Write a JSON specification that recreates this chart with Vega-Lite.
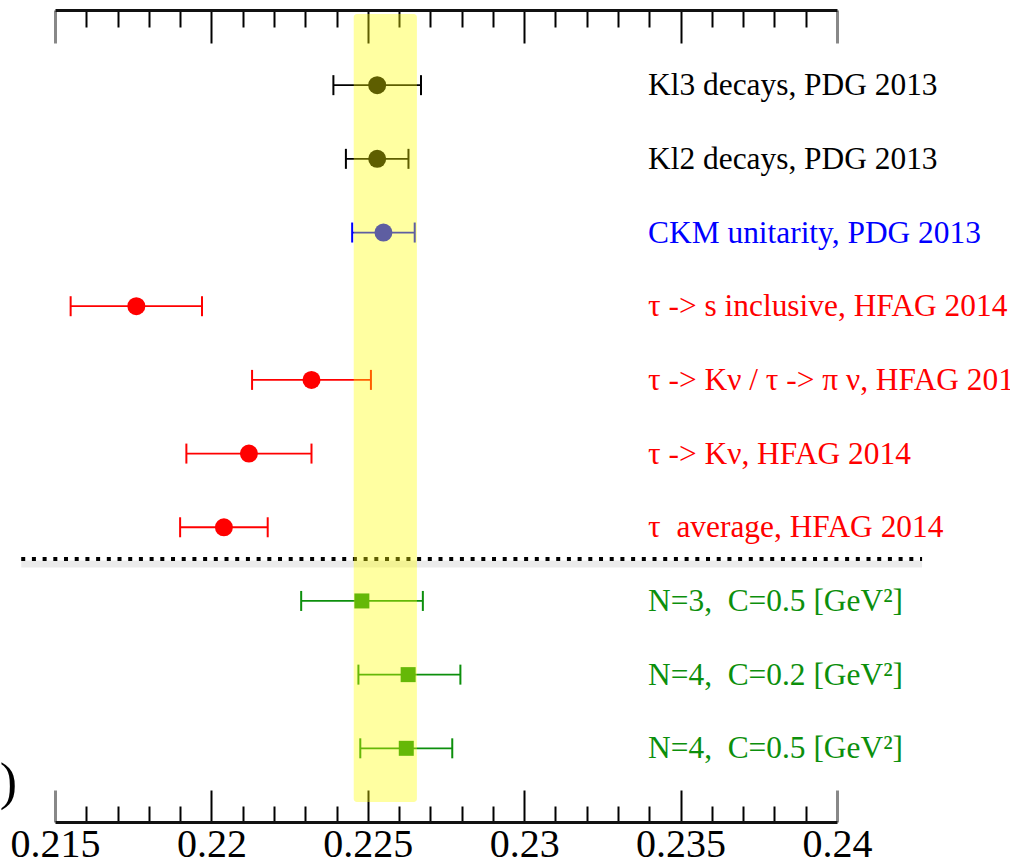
{
  "$schema": "https://vega.github.io/schema/vega-lite/v6.json",
  "width": 782,
  "height": 812,
  "autosize": {"type": "none"},
  "padding": {"left": 55, "top": 10, "right": 173, "bottom": 41},
  "background": "white",
  "config": {"view": {"stroke": null}},
  "data": {
    "values": [
      {"label": "Kl3 decays, PDG 2013", "group": "K", "row": 1, "v": 0.2253, "lo": 0.2239, "hi": 0.2267},
      {"label": "Kl2 decays, PDG 2013", "group": "K", "row": 2, "v": 0.2253, "lo": 0.2243, "hi": 0.2263},
      {"label": "CKM unitarity, PDG 2013", "group": "CKM", "row": 3, "v": 0.2255, "lo": 0.2245, "hi": 0.2265},
      {"label": "τ -> s inclusive, HFAG 2014", "group": "tau", "row": 4, "v": 0.2176, "lo": 0.2155, "hi": 0.2197},
      {"label": "τ -> Kν / τ -> π ν, HFAG 2014", "group": "tau", "row": 5, "v": 0.2232, "lo": 0.2213, "hi": 0.2251},
      {"label": "τ -> Kν, HFAG 2014", "group": "tau", "row": 6, "v": 0.2212, "lo": 0.2192, "hi": 0.2232},
      {"label": "τ \u00a0average, HFAG 2014", "group": "tau", "row": 7, "v": 0.2204, "lo": 0.2190, "hi": 0.2218},
      {"label": "N=3, \u00a0C=0.5 [GeV²]", "group": "fit", "row": 8, "v": 0.22481, "lo": 0.22287, "hi": 0.22676},
      {"label": "N=4, \u00a0C=0.2 [GeV²]", "group": "fit", "row": 9, "v": 0.22629, "lo": 0.22470, "hi": 0.22796},
      {"label": "N=4, \u00a0C=0.5 [GeV²]", "group": "fit", "row": 10, "v": 0.22623, "lo": 0.22476, "hi": 0.22770}
    ]
  },
  "resolve": {"axis": {"x": "independent"}},
  "layer": [
    {
      "data": {"values": [{}]},
      "mark": {"type": "rule", "color": "#000000", "strokeWidth": 7, "opacity": 0.08},
      "encoding": {
        "x": {"datum": 0.21392, "type": "quantitative", "scale": {"domain": [0.215, 0.24], "nice": false, "zero": false}, "axis": null},
        "x2": {"datum": 0.24272},
        "y": {"datum": 7.50, "type": "quantitative", "scale": {"domain": [-0.02, 11.0], "nice": false, "zero": false, "reverse": true}, "axis": null}
      }
    },
    {
      "data": {"values": [{}]},
      "mark": {"type": "rule", "color": "#000000", "strokeWidth": 4, "strokeDash": [4, 6.7]},
      "encoding": {
        "x": {"datum": 0.21392, "type": "quantitative", "scale": {"domain": [0.215, 0.24], "nice": false, "zero": false}, "axis": null},
        "x2": {"datum": 0.24272},
        "y": {"datum": 7.43, "type": "quantitative", "scale": {"domain": [-0.02, 11.0], "nice": false, "zero": false, "reverse": true}, "axis": null}
      }
    },
    {
      "mark": {"type": "rule", "strokeWidth": 1.8},
      "encoding": {
        "x": {
          "field": "lo", "type": "quantitative",
          "scale": {"domain": [0.215, 0.24], "nice": false, "zero": false},
          "axis": {
            "orient": "bottom",
            "values": [0.215,0.216,0.217,0.218,0.219,0.22,0.221,0.222,0.223,0.224,0.225,0.226,0.227,0.228,0.229,0.23,0.231,0.232,0.233,0.234,0.235,0.236,0.237,0.238,0.239,0.24],
            "domainColor": "#111111", "domainWidth": 3,
            "tickSize": {"condition": {"test": "abs(datum.value*200 - round(datum.value*200)) < 0.01", "value": -32}, "value": -16},
            "tickWidth": {"condition": {"test": "datum.value < 0.2151 || datum.value > 0.2399", "value": 3}, "value": 2},
            "tickColor": {"condition": {"test": "datum.value < 0.2151 || datum.value > 0.2399", "value": "#888888"}, "value": "#000000"},
            "labelExpr": "abs(datum.value*200 - round(datum.value*200)) < 0.01 ? format(datum.value, '~g') : ''",
            "labelFont": "Liberation Serif", "labelFontSize": 40, "labelColor": "#000000",
            "labelPadding": 34, "labelFlush": false, "labelOverlap": false,
            "title": null, "grid": false
          }
        },
        "x2": {"field": "hi"},
        "y": {"field": "row", "type": "quantitative", "scale": {"domain": [-0.02, 11.0], "nice": false, "zero": false, "reverse": true}, "axis": null},
        "color": {"field": "group", "type": "nominal", "scale": {"domain": ["K", "CKM", "tau", "fit"], "range": ["#000000", "#0000ff", "#ff0000", "#0c8f0c"]}, "legend": null}
      }
    },
    {
      "mark": {"type": "tick", "orient": "vertical", "size": 20, "thickness": 2, "opacity": 1},
      "encoding": {
        "x": {"field": "lo", "type": "quantitative", "scale": {"domain": [0.215, 0.24], "nice": false, "zero": false}, "axis": null},
        "y": {"field": "row", "type": "quantitative", "scale": {"domain": [-0.02, 11.0], "nice": false, "zero": false, "reverse": true}, "axis": null},
        "color": {"field": "group", "type": "nominal", "scale": {"domain": ["K", "CKM", "tau", "fit"], "range": ["#000000", "#0000ff", "#ff0000", "#0c8f0c"]}, "legend": null}
      }
    },
    {
      "mark": {"type": "tick", "orient": "vertical", "size": 20, "thickness": 2, "opacity": 1},
      "encoding": {
        "x": {"field": "hi", "type": "quantitative", "scale": {"domain": [0.215, 0.24], "nice": false, "zero": false}, "axis": null},
        "y": {"field": "row", "type": "quantitative", "scale": {"domain": [-0.02, 11.0], "nice": false, "zero": false, "reverse": true}, "axis": null},
        "color": {"field": "group", "type": "nominal", "scale": {"domain": ["K", "CKM", "tau", "fit"], "range": ["#000000", "#0000ff", "#ff0000", "#0c8f0c"]}, "legend": null}
      }
    },
    {
      "transform": [{"filter": "datum.group != 'fit'"}],
      "mark": {"type": "point", "shape": "circle", "filled": true, "opacity": 1, "size": 324},
      "encoding": {
        "x": {"field": "v", "type": "quantitative", "scale": {"domain": [0.215, 0.24], "nice": false, "zero": false}, "axis": null},
        "y": {"field": "row", "type": "quantitative", "scale": {"domain": [-0.02, 11.0], "nice": false, "zero": false, "reverse": true}, "axis": null},
        "color": {"field": "group", "type": "nominal", "scale": {"domain": ["K", "CKM", "tau", "fit"], "range": ["#000000", "#0000ff", "#ff0000", "#0c8f0c"]}, "legend": null}
      }
    },
    {
      "transform": [{"filter": "datum.group == 'fit'"}],
      "mark": {"type": "point", "shape": "square", "filled": true, "opacity": 1, "size": 225},
      "encoding": {
        "x": {"field": "v", "type": "quantitative", "scale": {"domain": [0.215, 0.24], "nice": false, "zero": false}, "axis": null},
        "y": {"field": "row", "type": "quantitative", "scale": {"domain": [-0.02, 11.0], "nice": false, "zero": false, "reverse": true}, "axis": null},
        "color": {"field": "group", "type": "nominal", "scale": {"domain": ["K", "CKM", "tau", "fit"], "range": ["#000000", "#0000ff", "#ff0000", "#0c8f0c"]}, "legend": null}
      }
    },
    {
      "mark": {"type": "text", "align": "left", "baseline": "alphabetic", "dy": 10, "font": "Liberation Serif", "fontSize": 31.4},
      "encoding": {
        "x": {"datum": 0.23396, "type": "quantitative", "scale": {"domain": [0.215, 0.24], "nice": false, "zero": false}, "axis": null},
        "y": {"field": "row", "type": "quantitative", "scale": {"domain": [-0.02, 11.0], "nice": false, "zero": false, "reverse": true}, "axis": null},
        "text": {"field": "label"},
        "color": {"field": "group", "type": "nominal", "scale": {"domain": ["K", "CKM", "tau", "fit"], "range": ["#000000", "#0000ff", "#ff0000", "#0c8f0c"]}, "legend": null}
      }
    },
    {
      "data": {"values": [{"t": ")"}]},
      "mark": {"type": "text", "align": "center", "baseline": "middle", "font": "Liberation Serif", "fontSize": 52, "color": "#000000"},
      "encoding": {
        "x": {"datum": 0.21351, "type": "quantitative", "scale": {"domain": [0.215, 0.24], "nice": false, "zero": false}, "axis": null},
        "y": {"datum": 10.47, "type": "quantitative", "scale": {"domain": [-0.02, 11.0], "nice": false, "zero": false, "reverse": true}, "axis": null},
        "text": {"field": "t"}
      }
    },
    {
      "data": {"values": [{}]},
      "mark": {"type": "rect", "color": "#ffff00", "opacity": 0.37, "cornerRadius": 3},
      "encoding": {
        "x": {
          "datum": 0.22455, "type": "quantitative",
          "scale": {"domain": [0.215, 0.24], "nice": false, "zero": false},
          "axis": {
            "orient": "top",
            "values": [0.215,0.216,0.217,0.218,0.219,0.22,0.221,0.222,0.223,0.224,0.225,0.226,0.227,0.228,0.229,0.23,0.231,0.232,0.233,0.234,0.235,0.236,0.237,0.238,0.239,0.24],
            "domainColor": "#111111", "domainWidth": 3,
            "tickSize": {"condition": {"test": "abs(datum.value*200 - round(datum.value*200)) < 0.01", "value": -33}, "value": -17},
            "tickWidth": {"condition": {"test": "datum.value < 0.2151 || datum.value > 0.2399", "value": 3}, "value": 2},
            "tickColor": {"condition": {"test": "datum.value < 0.2151 || datum.value > 0.2399", "value": "#888888"}, "value": "#000000"},
            "labels": false, "title": null, "grid": false
          }
        },
        "x2": {"datum": 0.22657},
        "y": {"datum": 0.034, "type": "quantitative", "scale": {"domain": [-0.02, 11.0], "nice": false, "zero": false, "reverse": true}, "axis": null},
        "y2": {"datum": 10.73}
      }
    }
  ]
}
